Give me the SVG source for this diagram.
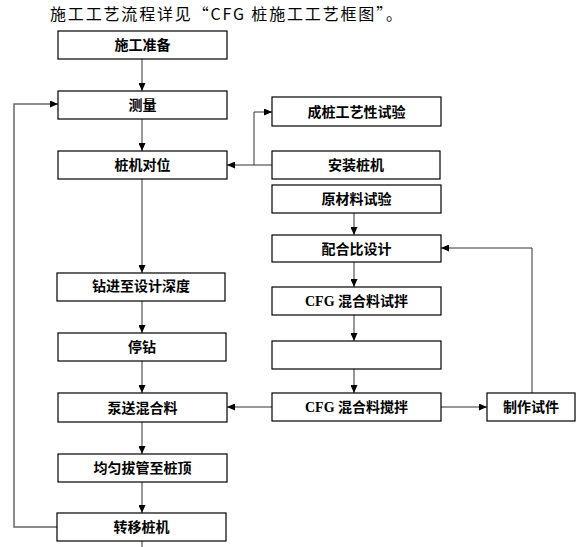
<svg xmlns="http://www.w3.org/2000/svg" width="588" height="547" viewBox="0 0 588 547">
<style>
.box{fill:#fff;stroke:#000;stroke-width:1.2}
.t{font-family:"Liberation Serif","Noto Sans CJK SC",serif;font-weight:bold;font-size:14px;text-anchor:middle;fill:#000}
.c{fill:none;stroke:#333;stroke-width:1}
.title{font-family:"Noto Sans CJK SC",sans-serif;font-size:16px;fill:#000}
</style>
<defs>
<marker id="ah" markerUnits="userSpaceOnUse" markerWidth="8" markerHeight="7" refX="8" refY="3.5" orient="auto">
<path d="M0,0 L8,3.5 L0,7 z" fill="#000"/>
</marker>
</defs>
<rect width="588" height="547" fill="#fff"/>
<text class="title" x="50" y="20" textLength="352" lengthAdjust="spacing">施工工艺流程详见“CFG 桩施工工艺框图”。</text>
<g id="connectors">
<path class="c" d="M142,59 V91" marker-end="url(#ah)"/>
<path class="c" d="M142,119 V151" marker-end="url(#ah)"/>
<path class="c" d="M142,179 V273" marker-end="url(#ah)"/>
<path class="c" d="M142,301 V333" marker-end="url(#ah)"/>
<path class="c" d="M142,361 V393" marker-end="url(#ah)"/>
<path class="c" d="M142,422 V454" marker-end="url(#ah)"/>
<path class="c" d="M142,482 V513" marker-end="url(#ah)"/>
<path class="c" d="M142,541 V547"/>
<path class="c" style="stroke:#666;stroke-width:1.5" d="M57,527 H14 V104 H58" marker-end="url(#ah)"/>
<path class="c" d="M272,165 H227" marker-end="url(#ah)"/>
<path class="c" d="M254,165 V112 H272" marker-end="url(#ah)"/>
<path class="c" d="M354,213 V235" marker-end="url(#ah)"/>
<path class="c" d="M354,262 V287" marker-end="url(#ah)"/>
<path class="c" d="M354,315 V341" marker-end="url(#ah)"/>
<path class="c" d="M354,369 V393" marker-end="url(#ah)"/>
<path class="c" d="M272,407 H227" marker-end="url(#ah)"/>
<path class="c" d="M441,407 H487" marker-end="url(#ah)"/>
<path class="c" d="M532,393 V248 H441" marker-end="url(#ah)"/>
</g>
<g id="n1"><rect class="box" x="58" y="31" width="169" height="28"/><text class="t" x="142.5" y="50">施工准备</text></g>
<g id="n2"><rect class="box" x="58" y="91" width="169" height="28"/><text class="t" x="142.5" y="110">测量</text></g>
<g id="n3"><rect class="box" x="272" y="97" width="169" height="29"/><text class="t" x="356.5" y="116.5">成桩工艺性试验</text></g>
<g id="n4"><rect class="box" x="58" y="151" width="169" height="28"/><text class="t" x="142.5" y="170">桩机对位</text></g>
<g id="n5"><rect class="box" x="272" y="151" width="168" height="28"/><text class="t" x="356" y="170">安装桩机</text></g>
<g id="n6"><rect class="box" x="272" y="185" width="169" height="28"/><text class="t" x="356.5" y="204">原材料试验</text></g>
<g id="n7"><rect class="box" x="272" y="235" width="169" height="27"/><text class="t" x="356.5" y="253.5">配合比设计</text></g>
<g id="n8"><rect class="box" x="57" y="273" width="168" height="28"/><text class="t" x="141" y="291">钻进至设计深度</text></g>
<g id="n9"><rect class="box" x="272" y="287" width="169" height="28"/><text class="t" x="356.5" y="306">CFG 混合料试拌</text></g>
<g id="n10"><rect class="box" x="58" y="333" width="168" height="28"/><text class="t" x="142" y="352">停钻</text></g>
<g id="n11"><rect class="box" x="272" y="341" width="169" height="28"/></g>
<g id="n12"><rect class="box" x="58" y="393" width="169" height="29"/><text class="t" x="142.5" y="412.5">泵送混合料</text></g>
<g id="n13"><rect class="box" x="272" y="393" width="169" height="28"/><text class="t" x="356.5" y="412">CFG 混合料搅拌</text></g>
<g id="n14"><rect class="box" x="487" y="393" width="88" height="28"/><text class="t" x="531" y="412">制作试件</text></g>
<g id="n15"><rect class="box" x="58" y="454" width="169" height="28"/><text class="t" x="142.5" y="473">均匀拔管至桩顶</text></g>
<g id="n16"><rect class="box" x="57" y="513" width="169" height="28"/><text class="t" x="141.5" y="532">转移桩机</text></g>
</svg>
